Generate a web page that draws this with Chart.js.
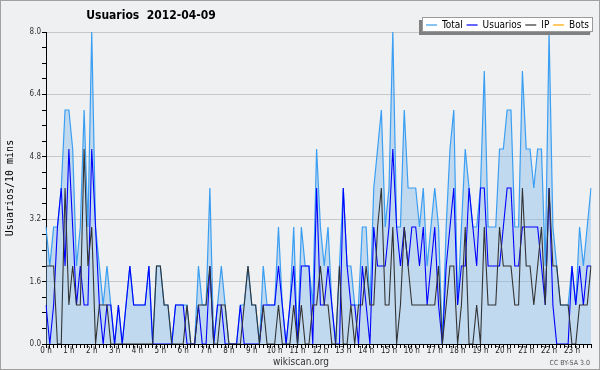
<!DOCTYPE html>
<html><head><meta charset="utf-8">
<script src="https://cdn.jsdelivr.net/npm/chart.js@4.4.0/dist/chart.umd.min.js"></script>
<style>html,body{margin:0;padding:0;background:#EEF0F2;}#wrap{width:600px;height:370px;}</style>
</head><body><div id="wrap"><canvas id="c" width="600" height="370"></canvas></div>
<script>
const chartTitle = "Usuarios  2012-04-09";
const yTitle = "Usuarios/10 mins";
const hourLabels = ["0 h","1 h","2 h","3 h","4 h","5 h","6 h","7 h","8 h","9 h","10 h","11 h","12 h","13 h","14 h","15 h","16 h","17 h","18 h","19 h","20 h","21 h","22 h","23 h"];
const yMajorTicks = [0, 1.6, 3.2, 4.8, 6.4, 8.0];
const seriesNames = ["Total", "Usuarios", "IP", "Bots"];

const total = [3,2,3,3,4,6,6,5,2,3,6,3,8,3,2,1,2,1,0,1,0,1,2,1,
1,1,1,2,0,2,2,1,1,0,1,1,1,1,0,0,2,1,1,4,0,1,2,1,
0,0,0,1,1,2,1,1,0,2,1,1,1,3,1,0,1,3,0,3,2,2,1,5,
3,2,3,1,0,2,4,2,2,1,1,3,3,1,4,5,6,3,4,8,3,3,6,4,
4,4,3,4,2,3,4,3,0,3,5,6,1,3,5,4,3,3,4,7,3,3,3,5,
5,6,6,3,3,7,5,5,4,5,5,2,8,3,2,1,1,1,2,1,3,2,3,4];
const usuarios = [1,0,1,3,4,2,5,3,1,2,1,1,5,3,1,0,1,1,0,1,0,1,2,1,
1,1,1,2,0,0,0,0,0,0,1,1,1,0,0,0,1,0,0,2,0,1,1,0,
0,0,0,1,0,0,0,0,0,1,1,1,1,2,1,0,1,2,0,2,2,2,0,4,
1,1,2,1,0,0,4,2,1,1,0,2,1,0,3,2,2,2,3,5,3,2,3,2,
3,3,2,3,1,2,3,1,0,2,3,4,1,2,2,4,3,2,4,4,2,2,2,2,
3,4,4,2,2,3,3,3,3,3,2,1,4,1,0,0,0,0,2,1,2,1,2,2];
const ip = [2,2,2,0,0,4,1,2,1,1,5,2,3,0,1,1,1,0,0,0,0,0,0,0,
0,0,0,0,0,2,2,1,1,0,0,0,0,1,0,0,1,1,1,2,0,0,1,1,
0,0,0,0,1,2,1,1,0,1,0,0,0,1,0,0,0,1,0,1,0,0,1,1,
2,1,1,0,0,2,0,0,1,0,1,1,2,1,1,3,4,1,1,3,0,1,3,2,
1,1,1,1,1,1,1,2,0,1,2,2,0,1,3,0,0,1,0,3,1,1,1,3,
2,2,2,1,1,4,2,2,1,2,3,1,4,2,2,1,1,1,0,0,1,1,1,2];
const bots = [];

const times = [];
for (let h = 0; h < 24; h++) for (let m = 0; m < 60; m += 10) times.push(h + ":" + (m < 10 ? "0" : "") + m);

const FONT = "'DejaVu Sans Condensed', 'DejaVu Sans', sans-serif";
const isMajor = v => yMajorTicks.some(t => Math.abs(t - v) < 1e-6);

const decor = {
  id: 'decor',
  beforeDraw(chart) {
    const c = chart.ctx;
    c.save();
    c.fillStyle = '#EEF0F2';
    c.fillRect(0, 0, chart.width, chart.height);
    c.restore();
  },
  afterDraw(chart) {
    const c = chart.ctx;
    c.save();
    c.strokeStyle = '#A0A0A0';
    c.lineWidth = 1;
    c.strokeRect(0.5, 0.5, chart.width - 1, chart.height - 1);
    c.fillStyle = '#000';
    c.font = "bold 12px " + FONT;
    c.textAlign = 'center';
    c.textBaseline = 'middle';
    c.fillText(chartTitle, 151, 16);
    c.font = "10px " + FONT;
    c.fillStyle = '#333';
    c.fillText("wikiscan.org", 301, 362);
    c.font = "7px " + FONT;
    c.fillStyle = '#555';
    c.textAlign = 'right';
    c.fillText("CC BY-SA 3.0", 590, 363);
    // legend box
    const bx = 422, by = 17, bw = 171, bh = 15;
    c.fillStyle = '#808080';
    c.fillRect(bx - 3, by + 3, bw, bh);
    c.fillStyle = '#FFFFFF';
    c.fillRect(bx, by, bw, bh);
    c.strokeStyle = '#9A9A9A';
    c.strokeRect(bx + 0.5, by + 0.5, bw - 1, bh - 1);
    c.font = "10px " + FONT;
    c.textAlign = 'left';
    const dsl = chart.data.datasets;
    const lineLen = 11, gapLT = 5;
    const startX = bx + 4, endX = bx + bw - 4;
    const widths = dsl.map(ds => c.measureText(ds.label).width);
    const used = widths.reduce((a, b) => a + b, 0) + dsl.length * (lineLen + gapLT);
    const gap = Math.max(2, (endX - startX - used) / (dsl.length - 1));
    let x = startX;
    const ly = by + bh / 2;
    dsl.forEach((ds, k) => {
      c.strokeStyle = ds.borderColor;
      c.lineWidth = 1.2;
      c.beginPath();
      c.moveTo(x, ly + 0.5);
      c.lineTo(x + lineLen, ly + 0.5);
      c.stroke();
      x += lineLen + gapLT;
      c.fillStyle = '#000';
      c.fillText(ds.label, x, ly + 1);
      x += widths[k] + gap;
    });
    c.restore();
  }
};

new Chart(document.getElementById('c'), {
  type: 'line',
  data: {
    labels: times,
    datasets: [
      { label: seriesNames[0], data: total, borderColor: '#3A9EF2', backgroundColor: 'rgba(121,180,233,0.38)', fill: 'origin', borderWidth: 1.2, pointRadius: 0, tension: 0, order: 4 },
      { label: seriesNames[1], data: usuarios, borderColor: '#0000FF', borderWidth: 1.1, pointRadius: 0, tension: 0, fill: false, order: 3 },
      { label: seriesNames[2], data: ip, borderColor: '#333333', borderWidth: 1.1, pointRadius: 0, tension: 0, fill: false, order: 2 },
      { label: seriesNames[3], data: bots, borderColor: '#FFA500', borderWidth: 1.1, pointRadius: 0, tension: 0, fill: false, order: 1 }
    ]
  },
  options: {
    responsive: false,
    animation: false,
    devicePixelRatio: 1,
    layout: { padding: { top: 32, right: 9, left: 0, bottom: 0 } },
    plugins: { legend: { display: false }, title: { display: false }, tooltip: { enabled: false } },
    scales: {
      x: {
        type: 'category',
        afterFit: s => { s.height = 26; },
        grid: { display: true, drawOnChartArea: false, drawTicks: true, tickLength: 4, tickColor: '#000' },
        border: { display: true, color: '#000', width: 1 },
        ticks: {
          autoSkip: false, maxRotation: 0, minRotation: 0, padding: -2,
          font: { size: 8, family: FONT }, color: '#222',
          callback: (v, i) => (i % 6 === 0 ? hourLabels[i / 6] : '')
        }
      },
      y: {
        min: 0, max: 8,
        afterFit: s => { s.width = 46; },
        grid: { color: ctx => (isMajor(ctx.tick.value) ? '#C8C8C8' : 'rgba(0,0,0,0)'), tickColor: '#000', tickLength: 4, drawTicks: true },
        border: { display: true, color: '#000', width: 1 },
        ticks: {
          stepSize: 0.4, autoSkip: false, padding: 1,
          font: { size: 8, family: FONT }, color: '#333',
          callback: v => (isMajor(v) ? v.toFixed(1) : '')
        },
        title: { display: true, text: yTitle, font: { family: "'DejaVu Sans Mono', monospace", size: 10 }, color: '#000', padding: { top: 4, bottom: 0 } }
      }
    }
  },
  plugins: [decor]
});
</script>
</body></html>
